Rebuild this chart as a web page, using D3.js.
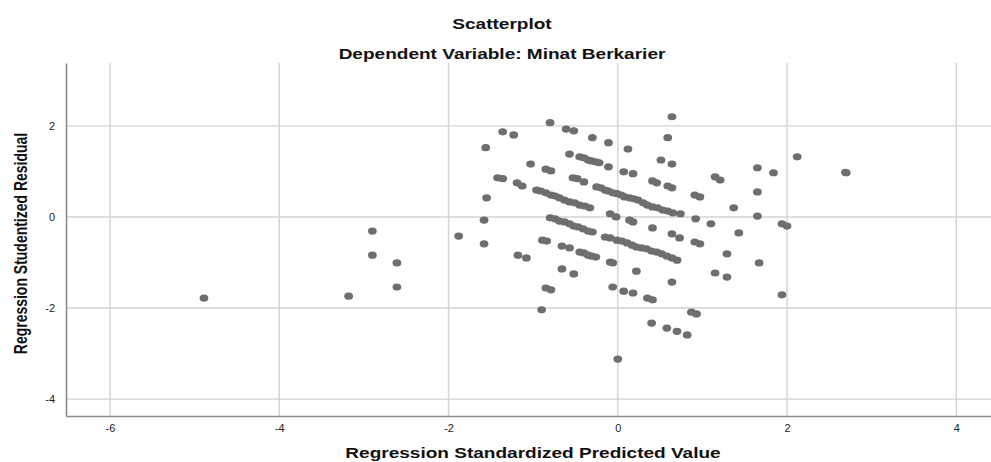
<!DOCTYPE html>
<html>
<head>
<meta charset="utf-8">
<script src="https://cdn.jsdelivr.net/npm/d3@7"></script>
<style>
  body { margin: 0; background: #fff; }
  svg { display: block; font-family: "Liberation Sans", Arial, sans-serif; }
</style>
</head>
<body>
<svg id="chart"></svg>
<script>
// values
const predicted = [
  -4.89, -3.18, -2.90, -2.90, -2.61, -2.61, -1.88,
  -1.56, -1.55, -1.58, -1.58,
  -1.36, -1.23, -0.80, -0.61, -0.52, -0.30, -0.11, 0.12,
  -1.42, -1.36, -1.19, -1.13, -1.03, -0.85, -0.79,
  -0.57, -0.45, -0.40, -0.35, -0.31, -0.26, -0.22, -0.11, 0.07, 0.18,
  -0.53, -0.48, -0.40,
  -0.25, -0.20, -0.15, -0.11, -0.06, -0.01, 0.04, 0.08, 0.14, 0.19, 0.24,
  0.30, 0.35, 0.41, 0.47, 0.53, 0.59, 0.65,
  -0.96, -0.91, -0.85, -0.79, -0.74, -0.69, -0.63, -0.57, -0.51, -0.45, -0.39, -0.33,
  -0.80, -0.74, -0.69, -0.63, -0.57, -0.52, -0.47, -0.41, -0.35, -0.30,
  -0.15, -0.09, -0.01, 0.05, 0.11, 0.17, 0.22, 0.28, 0.34, 0.40, 0.46, 0.52, 0.58, 0.64, 0.70,
  -0.09, -0.02, 0.14, 0.18,
  -0.89, -0.84, -0.66, -0.57, -0.45, -0.40, -0.35, -0.31, -0.26, -0.09, -0.06,
  0.22, -0.66, -0.52, -1.18, -1.08,
  -0.85, -0.79, -0.90,
  -0.06, 0.07, 0.18, 0.35, 0.41,
  0.87, 0.93, 0.40, 0.58, 0.70, 0.82, 0.00,
  0.64, 0.59, 0.51, 0.64,
  0.41, 0.46, 0.59, 0.64,
  1.15, 1.21, 0.91, 0.97,
  0.74, 0.92, 1.10,
  0.41, 0.64, 0.73, 0.91, 0.97, 1.29,
  1.15, 1.29, 0.64,
  1.37, 1.43,
  1.65, 1.84, 2.12, 2.70, 2.69,
  1.65, 1.65, 1.94, 2.00, 1.67, 1.94
];

const residual = [
  -1.78, -1.74, -0.31, -0.84, -1.01, -1.54, -0.42,
  1.52, 0.42, -0.07, -0.59,
  1.87, 1.80, 2.07, 1.93, 1.89, 1.74, 1.63, 1.49,
  0.86, 0.84, 0.75, 0.68, 1.16, 1.05, 1.01,
  1.38, 1.32, 1.30, 1.25, 1.23, 1.21, 1.19, 1.10, 0.99, 0.95,
  0.86, 0.84, 0.77,
  0.66, 0.64, 0.59, 0.57, 0.53, 0.51, 0.48, 0.44, 0.42, 0.40, 0.37,
  0.31, 0.26, 0.22, 0.20, 0.15, 0.13, 0.09,
  0.59, 0.57, 0.53, 0.48, 0.46, 0.42, 0.37, 0.33, 0.31, 0.26, 0.24, 0.20,
  -0.02, -0.04, -0.09, -0.11, -0.15, -0.20, -0.22, -0.26, -0.31, -0.33,
  -0.44, -0.46, -0.51, -0.53, -0.57, -0.62, -0.66, -0.68, -0.70, -0.75, -0.77, -0.81, -0.86, -0.90, -0.95,
  0.07, 0.00, -0.07, -0.11,
  -0.51, -0.53, -0.64, -0.68, -0.77, -0.79, -0.84, -0.86, -0.88, -0.99, -1.01,
  -1.19, -1.14, -1.25, -0.84, -0.90,
  -1.56, -1.60, -2.04,
  -1.54, -1.63, -1.67, -1.78, -1.82,
  -2.09, -2.13, -2.33, -2.44, -2.51, -2.59, -3.12,
  2.20, 1.74, 1.25, 1.16,
  0.79, 0.75, 0.68, 0.64,
  0.88, 0.81, 0.48, 0.44,
  0.07, -0.04, -0.15,
  -0.24, -0.37, -0.46, -0.55, -0.59, -0.81,
  -1.23, -1.32, -1.43,
  0.20, -0.35,
  1.08, 0.97, 1.32, 0.97, 0.98,
  0.55, 0.02, -0.15, -0.20, -1.01, -1.71
];

const xTicks = [-6, -4, -2, 0, 2, 4];
const yTicks = [-4, -2, 0, 2];

const titleText = "Scatterplot";
const subtitleText = "Dependent Variable: Minat Berkarier";
const xTitle = "Regression Standardized Predicted Value";
const yTitle = "Regression Studentized Residual";

const width = 991;
const height = 462;
const margin = {top: 63, right: 0, bottom: 46, left: 66};
const stretch = 1.27; // the picture is wider than it is tall, text too

const svg = d3.select("#chart")
    .attr("width", width)
    .attr("height", height);

const x = d3.scaleLinear()
    .domain([-6.52, 4.41])
    .range([margin.left, width - margin.right]);

const y = d3.scaleLinear()
    .domain([-4.37, 3.38])
    .range([height - margin.bottom, margin.top]);

// grid lines
svg.append("g")
    .selectAll("line")
    .data(xTicks)
    .join("line")
    .attr("x1", d => x(d))
    .attr("x2", d => x(d))
    .attr("y1", margin.top)
    .attr("y2", height - margin.bottom)
    .attr("stroke", "#d3d3d3")
    .attr("stroke-width", 1.4);

svg.append("g")
    .selectAll("line")
    .data(yTicks)
    .join("line")
    .attr("x1", margin.left)
    .attr("x2", width - margin.right)
    .attr("y1", d => y(d))
    .attr("y2", d => y(d))
    .attr("stroke", "#d3d3d3")
    .attr("stroke-width", 1.4);

// axes
const xAxis = svg.append("g")
    .attr("transform", `translate(0,${height - margin.bottom})`)
    .call(d3.axisBottom(x).tickValues(xTicks).tickSize(0).tickPadding(8).tickFormat(d => String(d)));

const yAxis = svg.append("g")
    .attr("transform", `translate(${margin.left},0)`)
    .call(d3.axisLeft(y).tickValues(yTicks).tickSize(0).tickPadding(11).tickFormat(d => String(d)));

[xAxis, yAxis].forEach(a => {
    a.select(".domain").attr("stroke", "#8c8c8c").attr("stroke-width", 1.6);
    a.selectAll("text")
        .attr("font-size", 11)
        .attr("fill", "#222")
        .attr("font-family", "'Liberation Sans', Arial, sans-serif");
});

// points
const points = predicted.map((p, i) => ({p: p, r: residual[i]}));

svg.append("g")
    .selectAll("ellipse")
    .data(points)
    .join("ellipse")
    .attr("cx", d => x(d.p))
    .attr("cy", d => y(d.r))
    .attr("rx", 4.4)
    .attr("ry", 3.6)
    .attr("fill", "#6e6e6e");

// titles
function label(text, cx, cy, size) {
    svg.append("text")
        .attr("transform", `translate(${cx},${cy}) scale(${stretch},1)`)
        .attr("text-anchor", "middle")
        .attr("font-size", size)
        .attr("font-weight", "bold")
        .attr("fill", "#111")
        .text(text);
}

label(titleText, 502, 29, 15);
label(subtitleText, 502, 59, 15);
label(xTitle, 533, 458, 15);

svg.append("text")
    .attr("transform", `translate(27,${(margin.top + height - margin.bottom) / 2 + 4}) scale(1.25,1) rotate(-90)`)
    .attr("text-anchor", "middle")
    .attr("font-size", 14)
    .attr("font-weight", "bold")
    .attr("fill", "#111")
    .text(yTitle);
</script>
</body>
</html>
